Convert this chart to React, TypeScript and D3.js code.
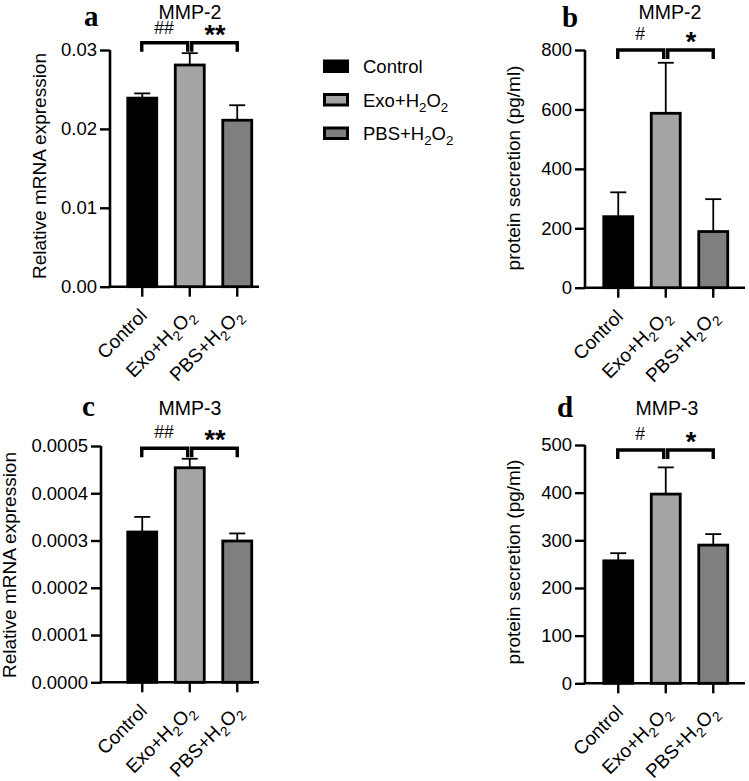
import React, { useEffect, useRef } from "react";
import * as d3 from "d3";

// ---------- data ----------
const categories = ["Control", "Exo+H₂O₂", "PBS+H₂O₂"];
const barColors = ["#000000", "#a4a4a4", "#7f7f7f"];

const mmp2MrnaMean = [0.0239, 0.0281, 0.0211];
const mmp2MrnaErr = [0.0006, 0.0015, 0.0019];
const mmp2ProteinMean = [239, 587, 189];
const mmp2ProteinErr = [82, 170, 109];
const mmp3MrnaMean = [0.000318, 0.000454, 0.000299];
const mmp3MrnaErr = [0.000032, 0.000019, 0.000016];
const mmp3ProteinMean = [257, 397, 290];
const mmp3ProteinErr = [16, 56, 23];

const mmp2MrnaTicks = [0, 0.01, 0.02, 0.03];
const mmp2ProteinTicks = [0, 200, 400, 600, 800];
const mmp3MrnaTicks = [0, 0.0001, 0.0002, 0.0003, 0.0004, 0.0005];
const mmp3ProteinTicks = [0, 100, 200, 300, 400, 500];

const panelLetters = ["a", "b", "c", "d"];
const panelTitles = ["MMP-2", "MMP-2", "MMP-3", "MMP-3"];
const yLabels = [
  "Relative mRNA expression",
  "protein secretion (pg/ml)",
  "Relative mRNA expression",
  "protein secretion (pg/ml)",
];
const sigLeft = ["##", "#", "##", "#"];
const sigRight = ["**", "*", "**", "*"];

// ---------- layout ----------
const layouts = [
  { axisX: 110, top: 50, bottom: 286.7, xr: [118.5, 261], xEnd: 259, yLabelX: 46, yLabelY: 166, titleX: 190, titleY: 19, letterX: 84, letterY: 26, brTop: 42.7, sigLY: 34, sigRY: 44, dec: 2 },
  { axisX: 585, top: 50, bottom: 287.7, xr: [594.5, 737], xEnd: 745, yLabelX: 520, yLabelY: 168, titleX: 670, titleY: 19, letterX: 562, letterY: 27, brTop: 50, sigLY: 40, sigRY: 51, dec: 0 },
  { axisX: 101, top: 446, bottom: 682.3, xr: [118.5, 261], xEnd: 259, yLabelX: 16, yLabelY: 565, titleX: 190, titleY: 415, letterX: 82, letterY: 415.5, brTop: 448.3, sigLY: 438, sigRY: 449, dec: 4 },
  { axisX: 585, top: 445, bottom: 683.3, xr: [594.5, 737], xEnd: 745, yLabelX: 520, yLabelY: 562, titleX: 667, titleY: 415, letterX: 557, letterY: 416.7, brTop: 450, sigLY: 440, sigRY: 451, dec: 0 },
];

const panelData = [
  { mean: mmp2MrnaMean, err: mmp2MrnaErr, ticks: mmp2MrnaTicks },
  { mean: mmp2ProteinMean, err: mmp2ProteinErr, ticks: mmp2ProteinTicks },
  { mean: mmp3MrnaMean, err: mmp3MrnaErr, ticks: mmp3MrnaTicks },
  { mean: mmp3ProteinMean, err: mmp3ProteinErr, ticks: mmp3ProteinTicks },
];

const SANS = "'Liberation Sans', Arial, Helvetica, sans-serif";
const SERIF = "'Liberation Serif', 'Times New Roman', serif";
const SUBS: Record<string, string> = { "₀": "0", "₁": "1", "₂": "2", "₃": "3" };

function addRich(sel: any, s: string, fs: number) {
  const runs: { t: string; sub: boolean }[] = [];
  for (const ch of s) {
    const sub = ch in SUBS;
    const c = sub ? SUBS[ch] : ch;
    if (runs.length && runs[runs.length - 1].sub === sub) runs[runs.length - 1].t += c;
    else runs.push({ t: c, sub });
  }
  const shift = fs * 0.28;
  let shifted = false;
  runs.forEach((r) => {
    const ts = sel.append("tspan").text(r.t).attr("fill", "#000");
    if (r.sub) {
      ts.attr("font-size", fs * 0.72);
      if (!shifted) { ts.attr("dy", shift); shifted = true; }
    } else if (shifted) {
      ts.attr("dy", -shift);
      shifted = false;
    }
  });
}

export default function App() {
  const ref = useRef<SVGSVGElement>(null);

  useEffect(() => {
    const svg = d3.select(ref.current);
    svg.selectAll("*").remove();

    layouts.forEach((L, i) => {
      const D = panelData[i];
      const g = svg.append("g");
      const yMax = D.ticks[D.ticks.length - 1];
      const y = d3.scaleLinear().domain([0, yMax]).range([L.bottom, L.top]);
      const x = d3.scaleBand().domain(categories).range(L.xr as [number, number]).paddingInner(0.39).paddingOuter(0.195);
      const bw = x.bandwidth();
      const cx = (c: string) => (x(c) as number) + bw / 2;

      // y axis
      const yAxis = d3.axisLeft(y).tickValues(D.ticks).tickSize(10).tickPadding(3)
        .tickFormat((v: any) => d3.format(`.${L.dec}f`)(v));
      const ya = g.append("g").attr("transform", `translate(${L.axisX},0)`).call(yAxis);
      ya.select(".domain").attr("d", `M-0,${L.top}V${L.bottom}`).attr("stroke-width", 2.6).attr("stroke", "#000");
      ya.selectAll(".tick line").attr("stroke-width", 2.4).attr("stroke", "#000");
      ya.selectAll(".tick text").attr("font-family", SANS).attr("font-size", 18.5).attr("fill", "#000");

      // x axis
      const xAxis = d3.axisBottom(x).tickSize(10).tickFormat(() => "");
      const xa = g.append("g").attr("transform", `translate(0,${L.bottom})`).call(xAxis);
      xa.select(".domain").attr("d", `M${L.axisX - 1.3},0H${L.xEnd}`).attr("stroke-width", 2.6).attr("stroke", "#000");
      xa.selectAll(".tick line").attr("stroke-width", 2.4).attr("stroke", "#000");

      categories.forEach((c) => {
        const t = g.append("text")
          .attr("transform", `translate(${cx(c) + 6},${L.bottom + 30}) rotate(-45)`)
          .attr("text-anchor", "end")
          .attr("font-family", SANS)
          .attr("font-size", 19)
          .attr("fill", "#000");
        addRich(t, c, 19);
      });

      // error bars
      categories.forEach((c, k) => {
        const m = D.mean[k], e = D.err[k];
        const xc = cx(c);
        g.append("line").attr("x1", xc).attr("x2", xc).attr("y1", y(m)).attr("y2", y(m + e))
          .attr("stroke", "#000").attr("stroke-width", 1.8);
        g.append("line").attr("x1", xc - 8).attr("x2", xc + 8).attr("y1", y(m + e)).attr("y2", y(m + e))
          .attr("stroke", "#000").attr("stroke-width", 1.8);
      });

      // bars
      g.selectAll("rect.bar").data(categories).enter().append("rect")
        .attr("class", "bar")
        .attr("x", (c) => x(c) as number)
        .attr("width", bw)
        .attr("y", (c, k) => y(D.mean[k]))
        .attr("height", (c, k) => L.bottom - y(D.mean[k]))
        .attr("fill", (c, k) => barColors[k])
        .attr("stroke", "#000")
        .attr("stroke-width", 2.8);

      // brackets
      const c0 = cx(categories[0]), c1 = cx(categories[1]), c2 = cx(categories[2]);
      const legH = 9;
      const br = (xa1: number, xa2: number) =>
        g.append("path")
          .attr("d", `M${xa1},${L.brTop + legH}V${L.brTop}H${xa2}V${L.brTop + legH}`)
          .attr("fill", "none").attr("stroke", "#000").attr("stroke-width", 3.4);
      br(c0 - 0.5, c1 - 2);
      br(c1 + 2, c2);

      g.append("text").attr("x", (c0 + c1) / 2 - 2).attr("y", L.sigLY)
        .attr("text-anchor", "middle").attr("font-family", SANS).attr("font-size", 17.5)
        .attr("fill", "#000").text(sigLeft[i]);
      g.append("text").attr("x", (c1 + c2) / 2 + 1.5).attr("y", L.sigRY)
        .attr("text-anchor", "middle").attr("font-family", SANS).attr("font-size", 27).attr("font-weight", "bold")
        .attr("fill", "#000").text(sigRight[i]);

      // title
      g.append("text").attr("x", L.titleX).attr("y", L.titleY).attr("text-anchor", "middle")
        .attr("font-family", SANS).attr("font-size", 19.5).attr("fill", "#000").text(panelTitles[i]);

      // panel letter
      g.append("text").attr("x", L.letterX).attr("y", L.letterY)
        .attr("font-family", SERIF).attr("font-weight", "bold").attr("font-size", 29)
        .attr("fill", "#000").text(panelLetters[i]);

      // y label
      g.append("text").attr("transform", `translate(${L.yLabelX},${L.yLabelY}) rotate(-90)`)
        .attr("text-anchor", "middle").attr("font-family", SANS).attr("font-size", 19)
        .attr("fill", "#000").text(yLabels[i]);
    });

    // legend
    const lg = svg.append("g");
    categories.forEach((c, k) => {
      const ry = 59.5 + k * 33.5;
      lg.append("rect").attr("x", 324.5).attr("y", ry + 1.5).attr("width", 23).attr("height", 10.5)
        .attr("fill", barColors[k]).attr("stroke", "#000").attr("stroke-width", 3);
      const t = lg.append("text").attr("x", 363).attr("y", ry + 13.5)
        .attr("font-family", SANS).attr("font-size", 18.5).attr("fill", "#000");
      addRich(t, c, 18.5);
    });
  }, []);

  return (
    <svg
      ref={ref}
      width={749}
      height={781}
      style={{ position: "absolute", left: 0, top: 0, background: "#fff" }}
    />
  );
}
